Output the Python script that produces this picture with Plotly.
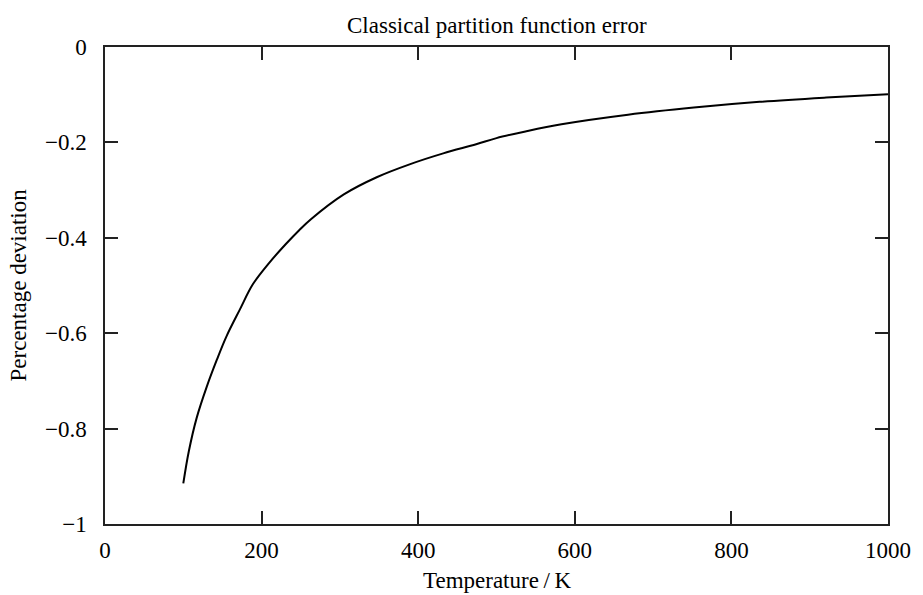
import plotly.graph_objects as go

temperature = [100, 107, 117, 130, 143, 155, 172, 189, 210, 231, 248, 263, 305, 347,
               389, 432, 474, 500, 537, 583, 668, 752, 836, 921, 1000]
deviation = [-0.915, -0.848, -0.778, -0.712, -0.655, -0.607, -0.551, -0.497, -0.452,
             -0.413, -0.384, -0.361, -0.309, -0.273, -0.246, -0.223, -0.204, -0.191,
             -0.177, -0.162, -0.142, -0.127, -0.115, -0.106, -0.099]

x_ticks = [0, 200, 400, 600, 800, 1000]
y_ticks = [0, -0.2, -0.4, -0.6, -0.8, -1]
y_labels = ["0", "\u22120.2", "\u22120.4", "\u22120.6", "\u22120.8", "\u22121"]

FONT = "Liberation Serif, Times New Roman, serif"
fig = go.Figure()
fig.add_trace(go.Scatter(x=temperature, y=deviation, mode="lines",
                         line=dict(color="black", width=2, shape="spline", smoothing=1.0),
                         showlegend=False, hoverinfo="skip"))

axis_common = dict(showgrid=False, zeroline=False, showline=True, linecolor="#222",
                   linewidth=1.5, mirror="ticks", ticks="inside", ticklen=13,
                   tickwidth=1.5, tickcolor="#222",
                   tickfont=dict(family=FONT, size=23, color="black"))
fig.update_xaxes(range=[0, 1000], tickvals=x_ticks, ticktext=[str(v) for v in x_ticks],
                 ticklabelstandoff=5, **axis_common)
fig.update_yaxes(range=[-1, 0], tickvals=y_ticks, ticktext=y_labels,
                 ticklabelstandoff=12, **axis_common)

fig.update_layout(
    width=923, height=595, autosize=False,
    margin=dict(l=105, r=27, t=47, b=71, pad=0),
    paper_bgcolor="white", plot_bgcolor="white",
    font=dict(family=FONT, size=23, color="black"),
    annotations=[
        dict(text="Classical partition function error", xref="paper", yref="paper",
             x=0.5, y=1, yshift=22, showarrow=False, xanchor="center", yanchor="middle",
             font=dict(family=FONT, size=23)),
        dict(text="Temperature\u2009/\u2009K", xref="paper", yref="paper", x=0.5, y=0,
             yshift=-56, showarrow=False, xanchor="center", yanchor="middle",
             font=dict(family=FONT, size=23)),
        dict(text="Percentage deviation", xref="paper", yref="paper", x=0, y=0.5,
             xshift=-87, showarrow=False, xanchor="center", yanchor="middle",
             textangle=-90, font=dict(family=FONT, size=23)),
    ],
)
fig.write_html("out.html")
